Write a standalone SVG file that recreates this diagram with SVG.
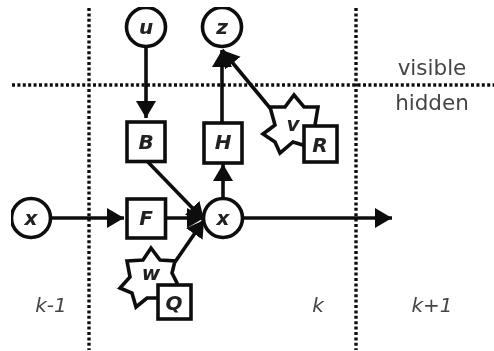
<svg xmlns="http://www.w3.org/2000/svg" width="494" height="351" viewBox="0 0 494 351">
<style>
.n{fill:#fff;stroke:#111;stroke-width:3.6}
.t{font-family:"DejaVu Sans",sans-serif;font-size:20px;font-weight:bold;font-style:italic;fill:#222;text-anchor:middle}
.c{fill:none;stroke:#111;stroke-width:3.6}
.d{fill:none;stroke:#111;stroke-width:3.4;stroke-dasharray:3 2.4}
.l{font-family:"DejaVu Sans",sans-serif;font-size:21.5px;fill:#444;text-anchor:middle}
.i{font-style:italic;font-size:20px}
</style>
<defs>
<marker id="a" markerUnits="userSpaceOnUse" markerWidth="20" markerHeight="22" refX="17" refY="10" orient="auto"><path d="M0 0L17 10L0 20Z" fill="#111"/></marker>
<filter id="b" x="0" y="0" width="100%" height="100%"><feGaussianBlur stdDeviation="0.55"/></filter>
</defs>
<rect width="494" height="351" fill="#fff"/>
<g filter="url(#b)">
<g id="grid">
<path class="d" d="M89 8V350M356 8V350M12 85H494"/>
</g>
<g id="connectors">
<path class="c" d="M146 47V118" marker-end="url(#a)"/>
<path class="c" d="M222 124V50" marker-end="url(#a)"/>
<path class="c" d="M270 108L222 50" marker-end="url(#a)"/>
<path class="c" d="M147 161L204 220" marker-end="url(#a)"/>
<path class="c" d="M223 199V164" marker-end="url(#a)"/>
<path class="c" d="M52 218H124" marker-end="url(#a)"/>
<path class="c" d="M165 218H204" marker-end="url(#a)"/>
<path class="c" d="M175 262L204 220" marker-end="url(#a)"/>
<path class="c" d="M243 218H392" marker-end="url(#a)"/>
</g>
<g id="node-u"><circle class="n" cx="146" cy="27" r="19.5"/><text class="t" x="146" y="34">u</text></g>
<g id="node-z"><circle class="n" cx="222" cy="27" r="19.5"/><text class="t" x="222" y="34">z</text></g>
<g id="node-B"><rect class="n" x="127" y="122" width="38" height="39.500"/><text class="t" x="146" y="149">B</text></g>
<g id="node-H"><rect class="n" x="204" y="123" width="38" height="40"/><text class="t" x="223" y="149">H</text></g>
<g id="node-F"><rect class="n" x="127" y="199" width="38.500" height="39"/><text class="t" x="146" y="225">F</text></g>
<g id="node-x0"><circle class="n" cx="31" cy="218" r="19.500"/><text class="t" x="31" y="225">x</text></g>
<g id="node-x1"><circle class="n" cx="223" cy="218" r="19.500"/><text class="t" x="223" y="225">x</text></g>
<g id="node-v"><path class="n" d="M270 107L285 107L294 95L304 107L318 107L315 125L316 140L303 145L293 142L280 153L275 142L263 134L275 125Z"/><text class="t" x="293" y="131">v</text></g>
<g id="node-R"><rect class="n" x="304" y="126" width="33" height="36"/><text class="t" x="320" y="152">R</text></g>
<g id="node-w"><path class="n" d="M127 261L143 260L151 248L160 260L175 261L172 273L177 283L170 296L157 298L147 298L136 307L132 293L120 288L130 277Z"/><text class="t" x="151" y="280">w</text></g>
<g id="node-Q"><rect class="n" x="158" y="285" width="33" height="34"/><text class="t" x="174" y="310">Q</text></g>
<g id="labels">
<text class="l" x="432" y="75">visible</text>
<text class="l" x="432" y="110">hidden</text>
<text class="l i" x="51" y="312">k-1</text>
<text class="l i" x="318" y="312">k</text>
<text class="l i" x="432" y="312">k+1</text>
</g>
</g>
</svg>
